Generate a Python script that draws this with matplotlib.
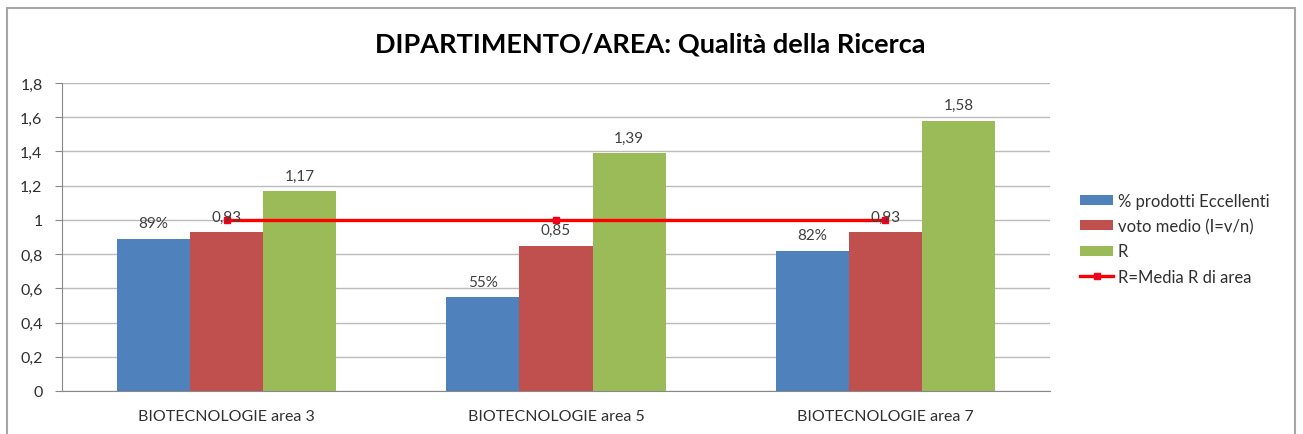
import matplotlib
matplotlib.use("Agg")
import matplotlib.pyplot as plt
import numpy as np
from matplotlib.patches import Rectangle
from matplotlib.lines import Line2D
from matplotlib.patches import Patch

plt.rcParams['font.family'] = ['Lato', 'DejaVu Sans']

categories = ["BIOTECNOLOGIE area 3", "BIOTECNOLOGIE area 5", "BIOTECNOLOGIE area 7"]
pct_eccellenti = [0.89, 0.55, 0.82]
pct_labels = ["89%", "55%", "82%"]
voto_medio = [0.93, 0.85, 0.93]
voto_labels = ["0,93", "0,85", "0,93"]
r_values = [1.17, 1.39, 1.58]
r_labels = ["1,17", "1,39", "1,58"]
media_area = [1.0, 1.0, 1.0]
yticks = [0, 0.2, 0.4, 0.6, 0.8, 1.0, 1.2, 1.4, 1.6, 1.8]
ytick_labels = ["0", "0,2", "0,4", "0,6", "0,8", "1", "1,2", "1,4", "1,6", "1,8"]
series_names = ["% prodotti Eccellenti", "voto medio (I=v/n)", "R", "R=Media R di area"]

W, H = 1303, 435
fig = plt.figure(figsize=(W / 100, H / 100), dpi=100)
fig.patch.set_facecolor("white")

# outer chart border
fig.patches.append(Rectangle((7 / W, -0.05), (1295 - 7) / W, 1.05 - 9 / H,
                             transform=fig.transFigure, fill=False,
                             edgecolor="#A6A6A6", linewidth=1.5))

ax = fig.add_axes([62 / W, 1 - 392 / H, (1050 - 62) / W, (392 - 84) / H])

colors = ["#4F81BD", "#C0504D", "#9BBB59"]
x = np.arange(len(categories))
bw = 0.222
series = [pct_eccellenti, voto_medio, r_values]
labels = [pct_labels, voto_labels, r_labels]
for i, (vals, labs, c) in enumerate(zip(series, labels, colors)):
    pos = x + (i - 1) * bw
    ax.bar(pos, vals, width=bw, color=c, zorder=2, label=series_names[i])
    for p, v, l in zip(pos, vals, labs):
        ax.annotate(l, (p, v), xytext=(0, 6), textcoords="offset points",
                    ha="center", va="bottom", fontsize=11, color="#404040", zorder=4)

ax.plot(x, media_area, color="#FF0000", linewidth=2.4, marker="s",
        markersize=5, markerfacecolor="#E0003C", markeredgecolor="#FF0000",
        zorder=3, label=series_names[3])

ax.set_xlim(-0.5, 2.5)
ax.set_ylim(0, 1.8)
ax.set_yticks(yticks)
ax.set_yticklabels(ytick_labels, fontsize=11.5, color="#303030")
ax.set_xticks(x)
ax.set_xticklabels(categories, fontsize=11.5, color="#303030")
ax.tick_params(axis="x", length=0, pad=13)
ax.tick_params(axis="y", length=5, color="#888888", direction="out", pad=9)
ax.yaxis.grid(True, color="#BBBBBB", linewidth=1.0, zorder=0)
ax.set_axisbelow(True)
for s in ["top", "right"]:
    ax.spines[s].set_visible(False)
ax.spines["left"].set_color("#888888")
ax.spines["bottom"].set_color("#888888")

fig.text(650 / W, 1 - 45 / H, "DIPARTIMENTO/AREA: Qualità della Ricerca",
         ha="center", va="center", fontsize=19.5, fontweight="bold", color="black")

handles = [Patch(facecolor=colors[0]), Patch(facecolor=colors[1]), Patch(facecolor=colors[2]),
           Line2D([], [], color="#FF0000", linewidth=2.4, marker="s", markersize=5,
                  markerfacecolor="#E0003C")]
fig.legend(handles, series_names, loc="upper left",
           bbox_to_anchor=(1080 / W, 1 - 194 / H), frameon=False, fontsize=12,
           handlelength=2.0, handleheight=0.55, handletextpad=0.25, labelspacing=0.55,
           borderaxespad=0, borderpad=0, labelcolor="#303030")

fig.savefig("out.png", dpi=100)
